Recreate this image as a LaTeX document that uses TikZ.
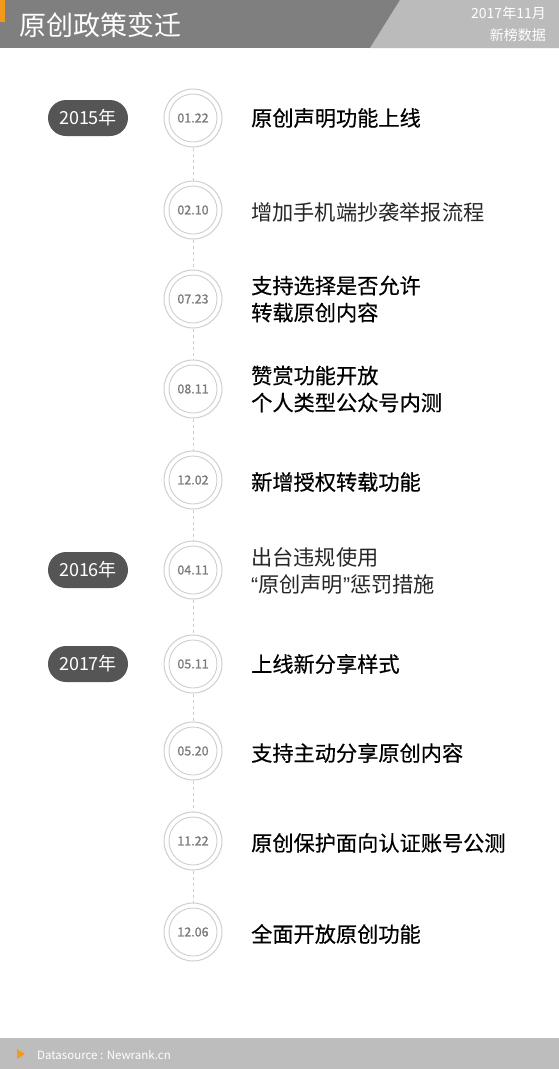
\documentclass[tikz,border=0pt]{standalone}
\usepackage{fontspec}
\setmainfont{Noto Sans CJK SC}
\newfontfamily\cjkm[FakeBold=0.45]{Noto Sans CJK SC}
\newfontfamily\cjkd[FakeBold=0.8]{Noto Sans CJK SC}
\newfontfamily\latq{Liberation Sans}
\definecolor{hdr}{HTML}{7F7F7F}
\definecolor{hdrl}{HTML}{BBBBBB}
\definecolor{orng}{HTML}{F39A1E}
\definecolor{pill}{HTML}{555555}
\definecolor{ring}{HTML}{CFCFCF}
\definecolor{datec}{HTML}{7A7A7A}
\definecolor{foot}{HTML}{BDBDBD}
\tikzset{
  yearpill/.style={fill=pill, rounded corners=18pt, minimum width=80pt, minimum height=36pt, inner sep=0pt, text=white, font=\fontsize{18}{18}\selectfont},
  ringout/.style={circle, draw=ring, line width=1pt, minimum size=58pt, inner sep=0pt},
  ringin/.style={circle, draw=ring, line width=0.9pt, minimum size=48pt, inner sep=0pt, text=datec, font=\cjkd\fontsize{12.5}{12.5}\selectfont},
  itemtext/.style={anchor=west, align=left, inner sep=0pt, font=\cjkm\fontsize{21.2}{27}\selectfont, text=black},
  itemlight/.style={anchor=west, align=left, inner sep=0pt, font=\fontsize{21.2}{27}\selectfont, text=black!85},
  conn/.style={draw=ring, line width=0.8pt, dash pattern=on 3pt off 3pt},
}
\begin{document}
\begin{tikzpicture}[x=1pt,y=-1pt]
\useasboundingbox (0,0) rectangle (559,1069);
\fill[white] (0,0) rectangle (559,1069);
% header
\fill[hdr] (0,0) rectangle (559,48);
\fill[hdrl] (400,0) -- (559,0) -- (559,48) -- (370,48) -- cycle;
\fill[orng] (0,0) rectangle (5,22);
\node[anchor=west, text=white, inner sep=0pt, font=\fontsize{27}{27}\selectfont] (title) at (19,25) {原创政策变迁};
\node[anchor=east, text=white, inner sep=0pt, font=\fontsize{14}{14}\selectfont] (hdate) at (546,13) {2017年11月};
\node[anchor=east, text=white, inner sep=0pt, font=\fontsize{14}{14}\selectfont] (hsrc) at (546,35) {新榜数据};
% footer
\fill[foot] (0,1038) rectangle (559,1069);
\fill[orng] (17,1049) -- (25,1054) -- (17,1059) -- cycle;
\node[anchor=west, text=white, inner sep=0pt, font=\fontsize{11.5}{11.5}\selectfont] (fsrc) at (37,1055) {Datasource : Newrank.cn};
% timeline
\foreach \n/\y/\d in {1/118/01.22, 2/210/02.10, 3/299/07.23, 4/389/08.11, 5/480/12.02, 6/570/04.11, 7/664/05.11, 8/751/05.20, 9/841/11.22, 10/932/12.06}{
  \node[ringout] (o\n) at (193,\y) {};
  \node[ringin] (c\n) at (193,\y) {\d};
}
\foreach \a/\b in {1/2,2/3,3/4,4/5,5/6,6/7,7/8,8/9,9/10}{
  \draw[conn] (o\a.south) -- (o\b.north);
}
% years
\node[yearpill] (y1) at (88,118) {2015年};
\node[yearpill] (y2) at (88,570) {2016年};
\node[yearpill] (y3) at (88,664) {2017年};
% texts
\node[itemtext] (t1) at (251,118) {原创声明功能上线};
\node[itemlight] (t2) at (251,212) {增加手机端抄袭举报流程};
\node[itemtext] (t3) at (251,299) {支持选择是否允许\\转载原创内容};
\node[itemtext] (t4) at (251,389) {赞赏功能开放\\个人类型公众号内测};
\node[itemtext] (t5) at (251,482) {新增授权转载功能};
\node[itemlight] (t6) at (251,571) {出台违规使用\\{\latq “}原创声明{\latq ”}惩罚措施};
\node[itemtext] (t7) at (251,664) {上线新分享样式};
\node[itemtext] (t8) at (251,753) {支持主动分享原创内容};
\node[itemtext] (t9) at (251,843) {原创保护面向认证账号公测};
\node[itemtext] (t10) at (251,934) {全面开放原创功能};
\end{tikzpicture}
\end{document}
